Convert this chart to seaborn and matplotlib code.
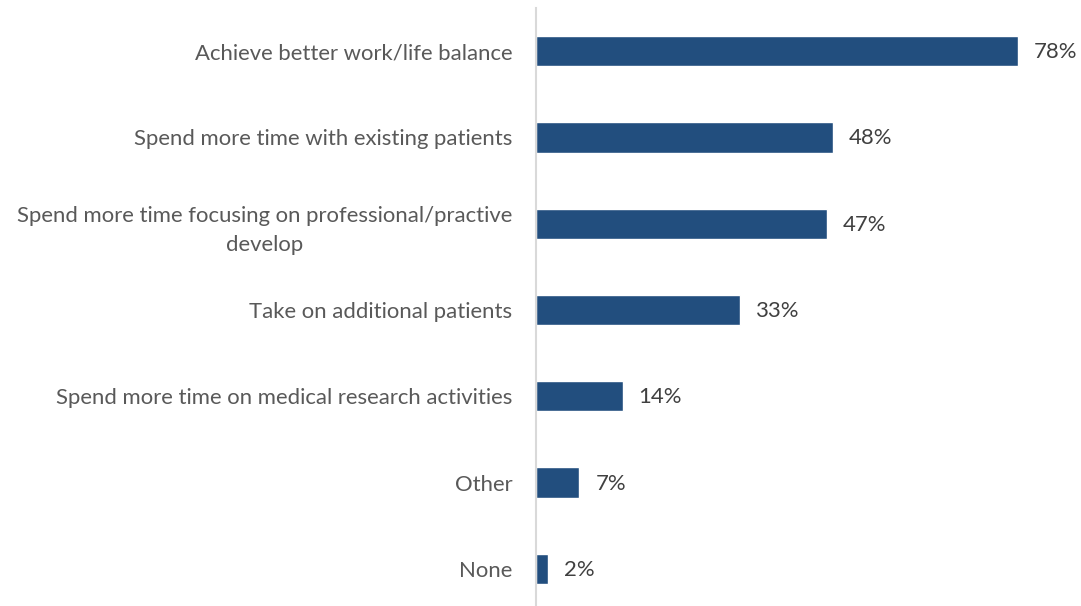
import matplotlib
matplotlib.use("Agg")
import matplotlib.pyplot as plt
import seaborn as sns
import pandas as pd

categories = [
    "Achieve better work/life balance",
    "Spend more time with existing patients",
    "Spend more time focusing on professional/practive\ndevelop",
    "Take on additional patients",
    "Spend more time on medical research activities",
    "Other",
    "None",
]
values = [78, 48, 47, 33, 14, 7, 2]

sns.set_theme(style="white")
plt.rcParams['font.family'] = ['Lato', 'DejaVu Sans']

df = pd.DataFrame({"cat": categories, "val": values})

fig = plt.figure(figsize=(10.81, 6.06), dpi=100)
ax = fig.add_axes([536/1081, -6/606, 544/1081, 604/606])
sns.barplot(data=df, x="val", y="cat", orient="h", color="#224E7E",
            saturation=1, width=0.35, ax=ax)
ax.set_xlim(0, 88)
ax.set_ylim(6.5, -0.5)
ax.set_xlabel("")
ax.set_ylabel("")
ax.set_xticks([])
for s in ["top", "right", "bottom"]:
    ax.spines[s].set_visible(False)
ax.spines["left"].set_color("#d9d9d9")
ax.spines["left"].set_linewidth(1.5)
ax.tick_params(axis="y", length=0, pad=17, labelsize=15.9, labelcolor="#595959")
for lab in ax.get_yticklabels():
    lab.set_multialignment("center")
    lab.set_linespacing(1.55)
for p, v in zip(ax.patches, values):
    ax.annotate(f"{v}%", (p.get_width(), p.get_y() + p.get_height() / 2),
                xytext=(16, -1), textcoords="offset pixels",
                va="center", ha="left", fontsize=15.9, color="#404040")
fig.savefig("out.png", dpi=100)
